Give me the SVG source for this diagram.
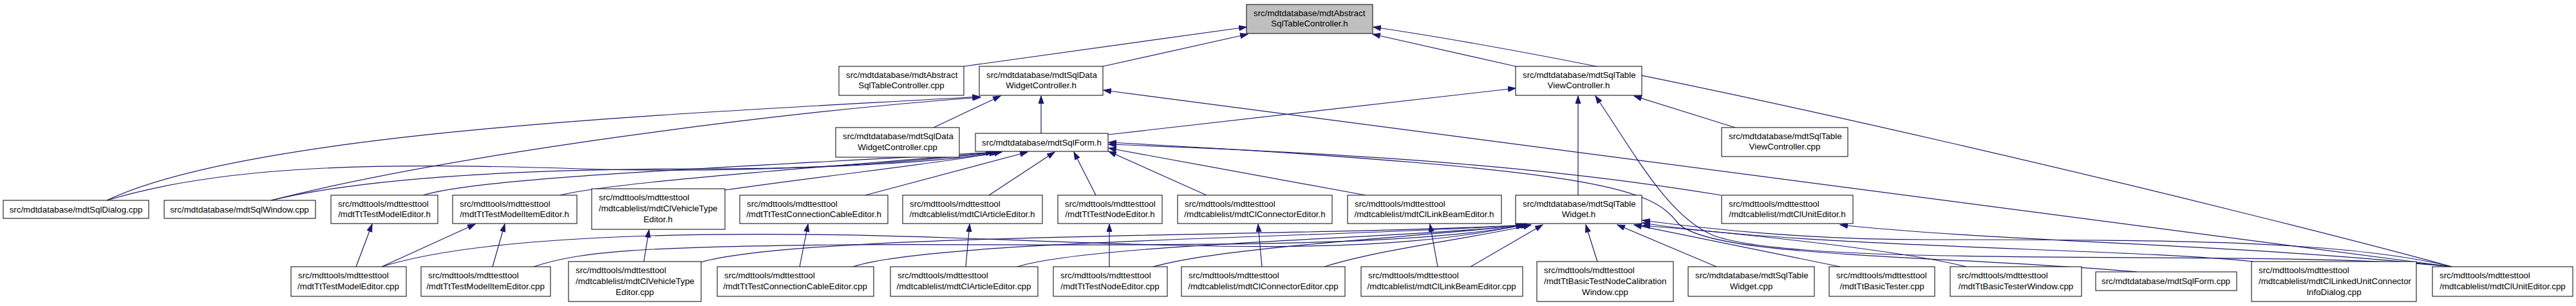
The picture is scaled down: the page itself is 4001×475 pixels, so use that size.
<svg xmlns="http://www.w3.org/2000/svg" width="4001" height="475" viewBox="0 0 4001 475">
<style>
.n rect{fill:#fff;stroke:#000;stroke-width:1}
.root rect{fill:#bfbfbf}
text{font-family:"Liberation Sans",Arial,Helvetica,sans-serif;font-size:13.33px;fill:#000}
.c{text-anchor:middle}
.e path{fill:none;stroke:#191970;stroke-width:1.2;marker-end:url(#a)}
</style>
<defs>
<marker id="a" markerWidth="14" markerHeight="10" refX="12" refY="4.5" orient="auto" markerUnits="userSpaceOnUse">
<path d="M0.5,0.5 L12,4.5 L0.5,8.5 z" fill="#191970" stroke="#191970" stroke-width="1"/>
</marker>
</defs>
<rect width="4001" height="475" fill="#fff"/>
<g id="edges" class="e">
<path d="M1497,103 L1936,42"/>
<path d="M1713,103 L1938,53"/>
<path d="M2354,103 L2132,53"/>
<path d="M3808,414 C3500,330 2600,110 2133,42"/>
<path d="M1450,198 L1554,149"/>
<path d="M1617,207 L1617,149"/>
<path d="M166,311 C400,200 1100,175 1522,150"/>
<path d="M421,311 C700,240 1200,175 1523,151"/>
<path d="M3808,414 L1714,140"/>
<path d="M2695,198 L2538,149"/>
<path d="M1721,209 L2354,137"/>
<path d="M2451,303 L2451,149"/>
<path d="M3808,414 C3550,385 2800,420 2660,365 C2590,335 2540,240 2478,149"/>
<path d="M166,311 C350,255 600,252 900,262 C1150,270 1400,255 1543,236"/>
<path d="M421,311 C600,268 900,262 1100,262 C1300,262 1480,250 1548,236"/>
<path d="M657,303 C750,275 1100,262 1550,236"/>
<path d="M870,303 C950,283 1250,262 1553,236"/>
<path d="M1126,295 C1300,270 1450,255 1556,236"/>
<path d="M1344,303 L1596,236"/>
<path d="M1536,303 L1638,236"/>
<path d="M1702,303 L1668,236"/>
<path d="M1874,303 L1722,235"/>
<path d="M2121,303 L1722,230"/>
<path d="M2673,303 C2400,258 2100,238 1722,224"/>
<path d="M3319,422 C3000,395 2650,400 2605,345 C2565,295 2500,262 1722,221"/>
<path d="M553,414 L578,348"/>
<path d="M593,414 L738,348"/>
<path d="M765,414 L784,348"/>
<path d="M1000,406 L1008,357"/>
<path d="M1242,414 L1255,348"/>
<path d="M1500,414 L1506,348"/>
<path d="M1723,414 L1723,348"/>
<path d="M1960,414 L1954,348"/>
<path d="M2233,414 L2221,348"/>
<path d="M3808,414 C3500,380 3100,375 2858,349"/>
<path d="M593,414 C750,365 1100,355 1500,370 C1900,385 2150,395 2366,349"/>
<path d="M829,414 C900,390 1000,383 1300,380 C1600,377 2150,392 2368,349"/>
<path d="M1089,407 C1250,360 2050,368 2370,349"/>
<path d="M1325,414 C1450,372 2100,368 2372,349"/>
<path d="M1580,414 C1700,378 2150,372 2374,349"/>
<path d="M1791,414 C1900,383 2200,368 2376,349"/>
<path d="M2057,414 C2150,385 2300,368 2378,349"/>
<path d="M2284,414 L2396,349"/>
<path d="M2481,406 L2463,349"/>
<path d="M2666,414 L2512,349"/>
<path d="M2858,414 L2538,349"/>
<path d="M3054,414 C2950,388 2700,362 2551,350"/>
<path d="M3500,406 C3300,385 2800,385 2551,346"/>
<path d="M3808,414 C3650,375 3400,372 3000,372 C2800,372 2650,355 2551,342"/>
</g>
<g id="root" class="n root"><rect x="1936" y="7" width="196" height="45"/><text x="1947" y="25">src/mdtdatabase/mdtAbstract</text><text class="c" x="2034" y="41">SqlTableController.h</text></g>
<g id="acpp" class="n"><rect x="1303" y="103" width="194" height="45"/><text x="1314" y="121">src/mdtdatabase/mdtAbstract</text><text class="c" x="1400" y="137">SqlTableController.cpp</text></g>
<g id="dwch" class="n"><rect x="1521" y="103" width="192" height="45"/><text x="1532" y="121">src/mdtdatabase/mdtSqlData</text><text class="c" x="1617" y="137">WidgetController.h</text></g>
<g id="tvch" class="n"><rect x="2354" y="103" width="196" height="45"/><text x="2365" y="121">src/mdtdatabase/mdtSqlTable</text><text class="c" x="2452" y="137">ViewController.h</text></g>
<g id="dwccpp" class="n"><rect x="1298" y="198" width="192" height="46"/><text x="1309" y="216">src/mdtdatabase/mdtSqlData</text><text class="c" x="1394" y="233">WidgetController.cpp</text></g>
<g id="sfh" class="n"><rect x="1515" y="207" width="206" height="28"/><text class="c" x="1618" y="226">src/mdtdatabase/mdtSqlForm.h</text></g>
<g id="tvccpp" class="n"><rect x="2674" y="198" width="196" height="45"/><text x="2685" y="216">src/mdtdatabase/mdtSqlTable</text><text class="c" x="2772" y="232">ViewController.cpp</text></g>
<g id="sdcpp" class="n"><rect x="5" y="311" width="226" height="28"/><text class="c" x="118" y="330">src/mdtdatabase/mdtSqlDialog.cpp</text></g>
<g id="swcpp" class="n"><rect x="255" y="311" width="235" height="28"/><text class="c" x="372" y="330">src/mdtdatabase/mdtSqlWindow.cpp</text></g>
<g id="tmeh" class="n"><rect x="514" y="303" width="166" height="44"/><text x="525" y="321">src/mdttools/mdttesttool</text><text class="c" x="597" y="337">/mdtTtTestModelEditor.h</text></g>
<g id="tmieh" class="n"><rect x="703" y="303" width="193" height="44"/><text x="714" y="321">src/mdttools/mdttesttool</text><text class="c" x="799" y="337">/mdtTtTestModelItemEditor.h</text></g>
<g id="vteh" class="n"><rect x="919" y="293" width="207" height="63"/><text x="930" y="311">src/mdttools/mdttesttool</text><text x="930" y="328">/mdtcablelist/mdtClVehicleType</text><text class="c" x="1022" y="345">Editor.h</text></g>
<g id="tcceh" class="n"><rect x="1149" y="303" width="230" height="44"/><text x="1160" y="321">src/mdttools/mdttesttool</text><text class="c" x="1264" y="337">/mdtTtTestConnectionCableEditor.h</text></g>
<g id="aeh" class="n"><rect x="1402" y="303" width="217" height="44"/><text x="1413" y="321">src/mdttools/mdttesttool</text><text class="c" x="1510" y="337">/mdtcablelist/mdtClArticleEditor.h</text></g>
<g id="tneh" class="n"><rect x="1643" y="303" width="162" height="44"/><text x="1654" y="321">src/mdttools/mdttesttool</text><text class="c" x="1724" y="337">/mdtTtTestNodeEditor.h</text></g>
<g id="ceh" class="n"><rect x="1829" y="303" width="240" height="44"/><text x="1840" y="321">src/mdttools/mdttesttool</text><text class="c" x="1949" y="337">/mdtcablelist/mdtClConnectorEditor.h</text></g>
<g id="lbeh" class="n"><rect x="2093" y="303" width="239" height="44"/><text x="2104" y="321">src/mdttools/mdttesttool</text><text class="c" x="2212" y="337">/mdtcablelist/mdtClLinkBeamEditor.h</text></g>
<g id="stwh" class="n"><rect x="2354" y="303" width="196" height="44"/><text x="2365" y="321">src/mdtdatabase/mdtSqlTable</text><text class="c" x="2452" y="337">Widget.h</text></g>
<g id="ueh" class="n"><rect x="2674" y="303" width="204" height="44"/><text x="2685" y="321">src/mdttools/mdttesttool</text><text class="c" x="2776" y="337">/mdtcablelist/mdtClUnitEditor.h</text></g>
<g id="tmecpp" class="n"><rect x="452" y="414" width="179" height="46"/><text x="463" y="432">src/mdttools/mdttesttool</text><text class="c" x="541" y="449">/mdtTtTestModelEditor.cpp</text></g>
<g id="tmiecpp" class="n"><rect x="654" y="414" width="201" height="46"/><text x="665" y="432">src/mdttools/mdttesttool</text><text class="c" x="754" y="449">/mdtTtTestModelItemEditor.cpp</text></g>
<g id="vtecpp" class="n"><rect x="883" y="406" width="206" height="62"/><text x="894" y="424">src/mdttools/mdttesttool</text><text x="894" y="441">/mdtcablelist/mdtClVehicleType</text><text class="c" x="986" y="458">Editor.cpp</text></g>
<g id="tccecpp" class="n"><rect x="1114" y="414" width="243" height="46"/><text x="1125" y="432">src/mdttools/mdttesttool</text><text class="c" x="1235" y="449">/mdtTtTestConnectionCableEditor.cpp</text></g>
<g id="aecpp" class="n"><rect x="1383" y="414" width="229" height="46"/><text x="1394" y="432">src/mdttools/mdttesttool</text><text class="c" x="1497" y="449">/mdtcablelist/mdtClArticleEditor.cpp</text></g>
<g id="tnecpp" class="n"><rect x="1636" y="414" width="177" height="46"/><text x="1647" y="432">src/mdttools/mdttesttool</text><text class="c" x="1724" y="449">/mdtTtTestNodeEditor.cpp</text></g>
<g id="cecpp" class="n"><rect x="1835" y="414" width="254" height="46"/><text x="1846" y="432">src/mdttools/mdttesttool</text><text class="c" x="1962" y="449">/mdtcablelist/mdtClConnectorEditor.cpp</text></g>
<g id="lbecpp" class="n"><rect x="2114" y="414" width="251" height="46"/><text x="2125" y="432">src/mdttools/mdttesttool</text><text class="c" x="2239" y="449">/mdtcablelist/mdtClLinkBeamEditor.cpp</text></g>
<g id="cwcpp" class="n"><rect x="2387" y="406" width="212" height="62"/><text x="2398" y="424">src/mdttools/mdttesttool</text><text x="2398" y="441">/mdtTtBasicTestNodeCalibration</text><text class="c" x="2493" y="458">Window.cpp</text></g>
<g id="stwcpp" class="n"><rect x="2622" y="414" width="196" height="46"/><text x="2633" y="432">src/mdtdatabase/mdtSqlTable</text><text class="c" x="2720" y="449">Widget.cpp</text></g>
<g id="btcpp" class="n"><rect x="2841" y="414" width="164" height="46"/><text x="2852" y="432">src/mdttools/mdttesttool</text><text class="c" x="2923" y="449">/mdtTtBasicTester.cpp</text></g>
<g id="btwcpp" class="n"><rect x="3029" y="414" width="204" height="46"/><text x="3040" y="432">src/mdttools/mdttesttool</text><text class="c" x="3131" y="449">/mdtTtBasicTesterWindow.cpp</text></g>
<g id="sfcpp" class="n"><rect x="3255" y="422" width="219" height="29"/><text class="c" x="3364" y="441">src/mdtdatabase/mdtSqlForm.cpp</text></g>
<g id="luccpp" class="n"><rect x="3497" y="406" width="256" height="62"/><text x="3508" y="424">src/mdttools/mdttesttool</text><text x="3508" y="441">/mdtcablelist/mdtClLinkedUnitConnector</text><text class="c" x="3625" y="458">InfoDialog.cpp</text></g>
<g id="uecpp" class="n"><rect x="3778" y="414" width="218" height="46"/><text x="3789" y="432">src/mdttools/mdttesttool</text><text class="c" x="3887" y="449">/mdtcablelist/mdtClUnitEditor.cpp</text></g>
</svg>
